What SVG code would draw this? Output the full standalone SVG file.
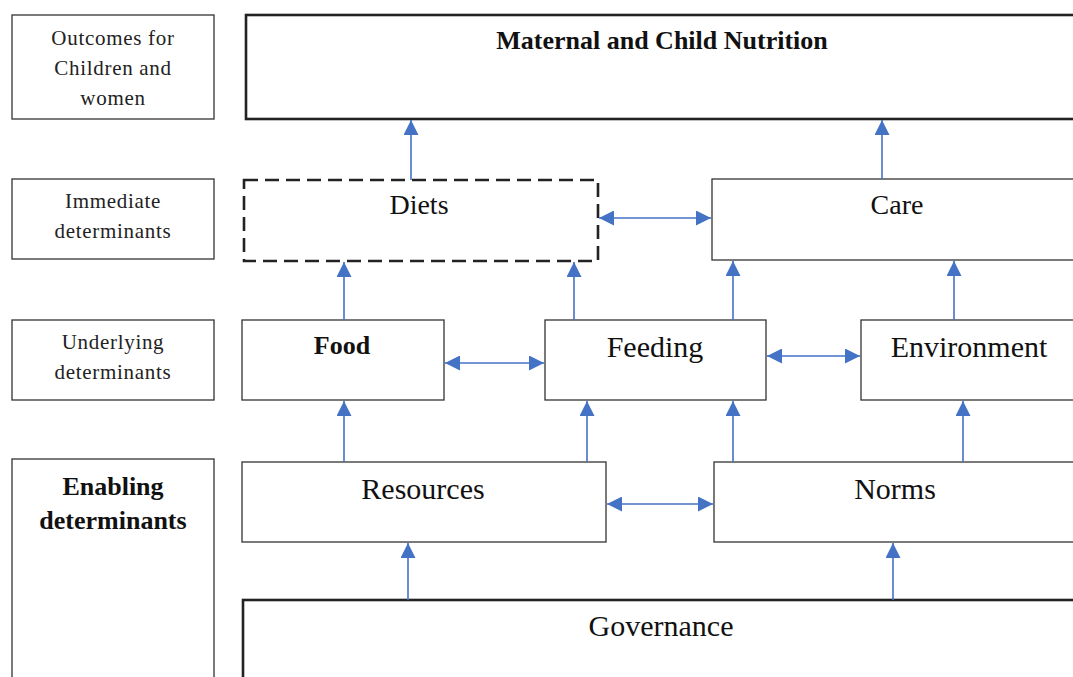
<svg xmlns="http://www.w3.org/2000/svg" width="1073" height="677" viewBox="0 0 1073 677">
<style>
.box{fill:#fff;stroke:#333;stroke-width:1.3}
.thick{fill:#fff;stroke:#222;stroke-width:2.6}
.dash{fill:#fff;stroke:#222;stroke-width:2.6;stroke-dasharray:14 7}
.lbl{font-family:"Liberation Serif","Times New Roman",serif;font-size:21px;fill:#222;text-anchor:middle;letter-spacing:0.7px}
.lblb{font-family:"Liberation Serif","Times New Roman",serif;font-size:26px;font-weight:bold;fill:#111;text-anchor:middle}
.t{font-family:"Liberation Serif","Times New Roman",serif;font-size:28px;fill:#111;text-anchor:middle}
.tb{font-family:"Liberation Serif","Times New Roman",serif;font-size:26px;font-weight:bold;fill:#111;text-anchor:middle}
.tl{font-family:"Liberation Serif","Times New Roman",serif;font-size:30px;fill:#111;text-anchor:middle}
.c{stroke:#4472C4;stroke-width:1.6;fill:none;marker-end:url(#ah)}
.cc{stroke:#4472C4;stroke-width:1.6;fill:none;marker-end:url(#ah);marker-start:url(#ah)}
</style>
<defs>
<marker id="ah" viewBox="0 0 10 10" refX="10" refY="5" markerUnits="userSpaceOnUse" markerWidth="15" markerHeight="15" orient="auto-start-reverse">
<path d="M0,0 L10,5 L0,10 z" fill="#4472C4"/>
</marker>
</defs>
<rect width="1073" height="677" fill="#fff"/>

<g id="label-outcomes">
<rect class="box" x="12" y="15" width="202" height="104"/>
<text class="lbl" x="113" y="45">Outcomes for</text>
<text class="lbl" x="113" y="75">Children and</text>
<text class="lbl" x="113" y="105">women</text>
</g>
<g id="label-immediate">
<rect class="box" x="12" y="179" width="202" height="80"/>
<text class="lbl" x="113" y="208">Immediate</text>
<text class="lbl" x="113" y="238">determinants</text>
</g>
<g id="label-underlying">
<rect class="box" x="12" y="320" width="202" height="80"/>
<text class="lbl" x="113" y="349">Underlying</text>
<text class="lbl" x="113" y="379">determinants</text>
</g>
<g id="label-enabling">
<rect class="box" x="12" y="459" width="202" height="240"/>
<text class="lblb" x="113" y="495">Enabling</text>
<text class="lblb" x="113" y="529">determinants</text>
</g>

<g id="maternal">
<rect class="thick" x="246" y="15" width="840" height="104"/>
<text class="tb" x="662" y="49">Maternal and Child Nutrition</text>
</g>
<g id="diets">
<rect class="dash" x="244" y="180" width="354" height="81"/>
<text class="t" x="419" y="214">Diets</text>
</g>
<g id="care">
<rect class="box" x="712" y="179" width="380" height="81"/>
<text class="t" x="897" y="214">Care</text>
</g>
<g id="food">
<rect class="box" x="242" y="320" width="202" height="80"/>
<text class="tb" x="342" y="354">Food</text>
</g>
<g id="feeding">
<rect class="box" x="545" y="320" width="221" height="80"/>
<text class="tl" x="655" y="357">Feeding</text>
</g>
<g id="environment">
<rect class="box" x="861" y="320" width="230" height="80"/>
<text class="tl" x="969" y="357">Environment</text>
</g>
<g id="resources">
<rect class="box" x="242" y="462" width="364" height="80"/>
<text class="tl" x="423" y="499">Resources</text>
</g>
<g id="norms">
<rect class="box" x="714" y="462" width="380" height="80"/>
<text class="tl" x="895" y="499">Norms</text>
</g>
<g id="governance">
<rect class="thick" x="243" y="600" width="850" height="100"/>
<text class="tl" x="661" y="636">Governance</text>
</g>

<g id="connectors">
<line class="c" x1="411" y1="180" x2="411" y2="120"/>
<line class="c" x1="882" y1="179" x2="882" y2="120"/>
<line class="cc" x1="599" y1="218" x2="711" y2="218"/>
<line class="c" x1="344" y1="320" x2="344" y2="262"/>
<line class="c" x1="574" y1="320" x2="574" y2="262"/>
<line class="c" x1="733" y1="320" x2="733" y2="261"/>
<line class="c" x1="954" y1="320" x2="954" y2="261"/>
<line class="cc" x1="445" y1="363" x2="544" y2="363"/>
<line class="cc" x1="767" y1="356" x2="860" y2="356"/>
<line class="c" x1="344" y1="462" x2="344" y2="401"/>
<line class="c" x1="587" y1="462" x2="587" y2="401"/>
<line class="c" x1="733" y1="462" x2="733" y2="401"/>
<line class="c" x1="963" y1="462" x2="963" y2="401"/>
<line class="cc" x1="607" y1="504" x2="713" y2="504"/>
<line class="c" x1="408" y1="600" x2="408" y2="543"/>
<line class="c" x1="893" y1="600" x2="893" y2="543"/>
</g>
</svg>
